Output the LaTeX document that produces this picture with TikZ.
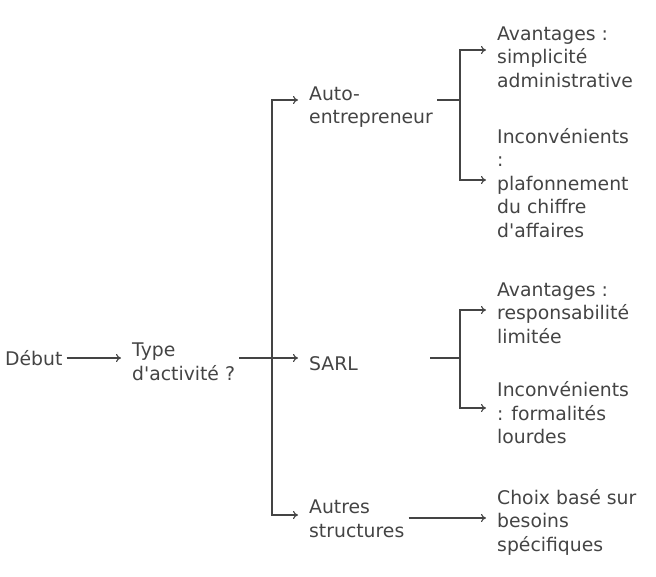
\documentclass[tikz,border=0pt]{standalone}
\usepackage{fontspec}
\setmainfont{DejaVu Sans}
\usetikzlibrary{arrows.meta}
\definecolor{inkgrey}{HTML}{444444}
\tikzset{
  label/.style={anchor=west, align=left, inner sep=4pt, text=inkgrey,
    font=\fontsize{18.8}{23.5}\selectfont},
  link/.style={draw=inkgrey, line width=1.1pt, -{To[length=5pt,width=8pt]}},
  plain/.style={draw=inkgrey, line width=1.1pt}
}
\begin{document}
\begin{tikzpicture}[x=1pt,y=-1pt]
  \useasboundingbox (0,0) rectangle (656,576);
  % nodes
  \node[label] (debut) at (1,358) {Début};
  \node[label] (type) at (128,362) {Type\\d\textquotesingle activité ?};
  \node[label] (auto) at (305,107) {Auto-\\entrepreneur};
  \node[label] (sarl) at (305,364) {SARL};
  \node[label] (autres) at (305,519) {Autres\\structures};
  \node[label] (avauto) at (493,57) {Avantages :\\simplicité\\administrative};
  \node[label] (inauto) at (493,183) {Inconvénients\\:\\plafonnement\\du chiffre\\d\textquotesingle affaires};
  \node[label] (avsarl) at (493,313) {Avantages :\\responsabilité\\limitée};
  \node[label] (insarl) at (493,413) {Inconvénients\\: formalités\\lourdes};
  \node[label] (choix) at (493,522) {Choix basé sur\\besoins\\spécifiques};
  % junctions
  \coordinate (j1) at (272,358);
  \coordinate (j2) at (460,100);
  \coordinate (j3) at (460,358);
  % connectors
  \draw[link] (debut.east |- 0,358) -- (121,358);
  \draw[plain] (type.east |- j1) -- (j1);
  \draw[link] (j1) |- (298,100);
  \draw[link] (j1) -- (298,358);
  \draw[link] (j1) |- (298,515);
  \draw[plain] (auto.east |- j2) -- (j2);
  \draw[link] (j2) |- (486,50);
  \draw[link] (j2) |- (486,180);
  \draw[plain] (430,358) -- (j3);
  \draw[link] (j3) |- (486,310);
  \draw[link] (j3) |- (486,408);
  \draw[link] (autres.east |- 0,518) -- (486,518);
\end{tikzpicture}
\end{document}
